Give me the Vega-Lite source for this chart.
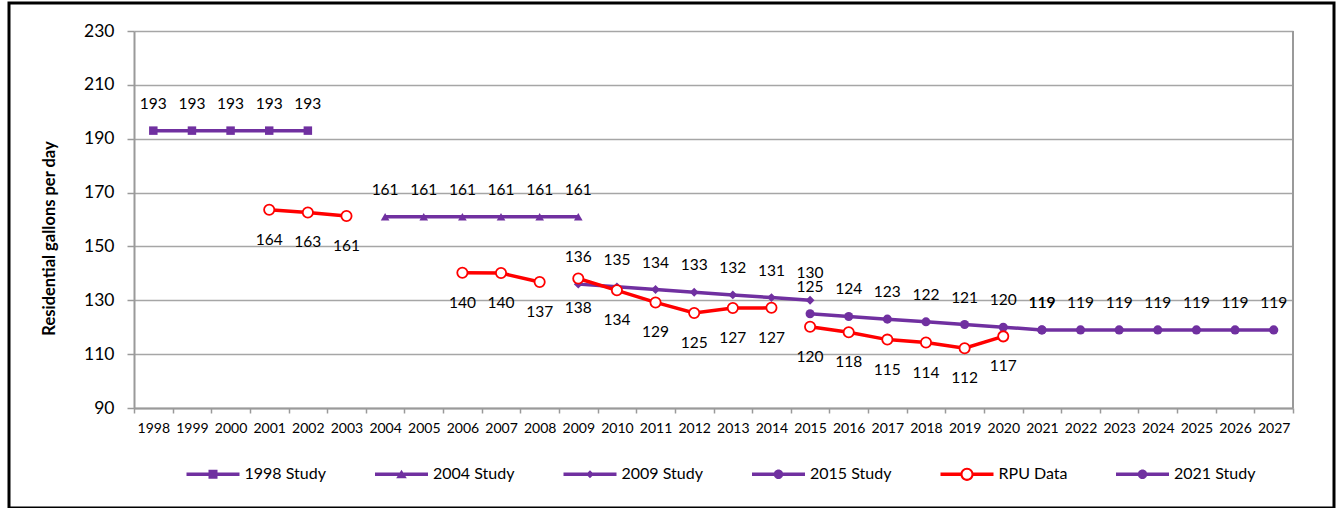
{
  "$schema": "https://vega.github.io/schema/vega-lite/v6.json",
  "width": 1325,
  "height": 505,
  "autosize": {"type": "none"},
  "padding": {"left": 9, "top": 3, "right": 3, "bottom": 0},
  "background": "white",
  "config": {
    "view": {"stroke": "black", "strokeWidth": 3},
    "font": "Lato",
    "text": {"font": "Lato"},
    "legend": {"labelFont": "Lato"}
  },
  "data": {
    "values": [
      {"series": "1998 Study", "group": "1998 Study", "year": 1998, "value": 193},
      {"series": "1998 Study", "group": "1998 Study", "year": 1999, "value": 193},
      {"series": "1998 Study", "group": "1998 Study", "year": 2000, "value": 193},
      {"series": "1998 Study", "group": "1998 Study", "year": 2001, "value": 193},
      {"series": "1998 Study", "group": "1998 Study", "year": 2002, "value": 193},
      {"series": "2004 Study", "group": "2004 Study", "year": 2004, "value": 161},
      {"series": "2004 Study", "group": "2004 Study", "year": 2005, "value": 161},
      {"series": "2004 Study", "group": "2004 Study", "year": 2006, "value": 161},
      {"series": "2004 Study", "group": "2004 Study", "year": 2007, "value": 161},
      {"series": "2004 Study", "group": "2004 Study", "year": 2008, "value": 161},
      {"series": "2004 Study", "group": "2004 Study", "year": 2009, "value": 161},
      {"series": "2009 Study", "group": "2009 Study", "year": 2009, "value": 136},
      {"series": "2009 Study", "group": "2009 Study", "year": 2010, "value": 135},
      {"series": "2009 Study", "group": "2009 Study", "year": 2011, "value": 134},
      {"series": "2009 Study", "group": "2009 Study", "year": 2012, "value": 133},
      {"series": "2009 Study", "group": "2009 Study", "year": 2013, "value": 132},
      {"series": "2009 Study", "group": "2009 Study", "year": 2014, "value": 131},
      {"series": "2009 Study", "group": "2009 Study", "year": 2015, "value": 130},
      {"series": "2015 Study", "group": "2015 Study", "year": 2015, "value": 125},
      {"series": "2015 Study", "group": "2015 Study", "year": 2016, "value": 124},
      {"series": "2015 Study", "group": "2015 Study", "year": 2017, "value": 123},
      {"series": "2015 Study", "group": "2015 Study", "year": 2018, "value": 122},
      {"series": "2015 Study", "group": "2015 Study", "year": 2019, "value": 121},
      {"series": "2015 Study", "group": "2015 Study", "year": 2020, "value": 120},
      {"series": "2015 Study", "group": "2015 Study", "year": 2021, "value": 119},
      {"series": "2021 Study", "group": "2021 Study", "year": 2021, "value": 119},
      {"series": "2021 Study", "group": "2021 Study", "year": 2022, "value": 119},
      {"series": "2021 Study", "group": "2021 Study", "year": 2023, "value": 119},
      {"series": "2021 Study", "group": "2021 Study", "year": 2024, "value": 119},
      {"series": "2021 Study", "group": "2021 Study", "year": 2025, "value": 119},
      {"series": "2021 Study", "group": "2021 Study", "year": 2026, "value": 119},
      {"series": "2021 Study", "group": "2021 Study", "year": 2027, "value": 119},
      {"series": "RPU Data", "group": "RPU 2001-2003", "year": 2001, "value": 163.6},
      {"series": "RPU Data", "group": "RPU 2001-2003", "year": 2002, "value": 162.6},
      {"series": "RPU Data", "group": "RPU 2001-2003", "year": 2003, "value": 161.3},
      {"series": "RPU Data", "group": "RPU 2006-2008", "year": 2006, "value": 140.2},
      {"series": "RPU Data", "group": "RPU 2006-2008", "year": 2007, "value": 140.1},
      {"series": "RPU Data", "group": "RPU 2006-2008", "year": 2008, "value": 136.8},
      {"series": "RPU Data", "group": "RPU 2009-2014", "year": 2009, "value": 138.1},
      {"series": "RPU Data", "group": "RPU 2009-2014", "year": 2010, "value": 133.7},
      {"series": "RPU Data", "group": "RPU 2009-2014", "year": 2011, "value": 129.2},
      {"series": "RPU Data", "group": "RPU 2009-2014", "year": 2012, "value": 125.3},
      {"series": "RPU Data", "group": "RPU 2009-2014", "year": 2013, "value": 127.1},
      {"series": "RPU Data", "group": "RPU 2009-2014", "year": 2014, "value": 127.2},
      {"series": "RPU Data", "group": "RPU 2015-2020", "year": 2015, "value": 120.2},
      {"series": "RPU Data", "group": "RPU 2015-2020", "year": 2016, "value": 118.1},
      {"series": "RPU Data", "group": "RPU 2015-2020", "year": 2017, "value": 115.4},
      {"series": "RPU Data", "group": "RPU 2015-2020", "year": 2018, "value": 114.3},
      {"series": "RPU Data", "group": "RPU 2015-2020", "year": 2019, "value": 112.2},
      {"series": "RPU Data", "group": "RPU 2015-2020", "year": 2020, "value": 116.6}
    ]
  },
  "resolve": {"scale": {"shape": "independent", "color": "independent", "size": "independent"}},
  "layer": [
    {
      "transform": [{"filter": "datum.series !== 'RPU Data'"}],
      "mark": {"type": "line", "color": "#7030A0", "strokeWidth": 3.5},
      "encoding": {
        "x": {
          "field": "year",
          "type": "ordinal",
          "scale": {
            "type": "band",
            "domain": [1998, 1999, 2000, 2001, 2002, 2003, 2004, 2005, 2006, 2007, 2008, 2009, 2010, 2011, 2012, 2013, 2014, 2015, 2016, 2017, 2018, 2019, 2020, 2021, 2022, 2023, 2024, 2025, 2026, 2027],
            "range": [125, 1284],
            "paddingInner": 0,
            "paddingOuter": 0
          },
          "axis": {
            "title": null,
            "orient": "bottom",
            "offset": -100,
            "labelAngle": 0,
            "labelFont": "Lato",
            "labelFontSize": 14,
            "labelColor": "#000000",
            "labelPadding": 8,
            "tickBand": "extent",
            "tickSize": 5,
            "tickColor": "#9A9A9A",
            "tickWidth": 1.5,
            "domainColor": "#9A9A9A",
            "domainWidth": 2,
            "grid": false
          }
        },
        "y": {
          "field": "value",
          "type": "quantitative",
          "scale": {"domain": [90, 230], "range": [405, 28], "nice": false, "zero": false},
          "axis": {
            "title": "Residential gallons per day",
            "titleFont": "Lato",
            "titleFontSize": 16.5,
            "titleFontWeight": "bold",
            "titleColor": "#000000",
            "titleAngle": -90,
            "titleBaseline": "middle",
            "titleAlign": "center",
            "titleX": -85,
            "titleY": 235,
            "orient": "left",
            "offset": -125,
            "values": [90, 110, 130, 150, 170, 190, 210, 230],
            "labelFont": "Lato",
            "labelFontSize": 17.5,
            "labelColor": "#000000",
            "labelPadding": 13,
            "tickSize": 7,
            "tickColor": "#9A9A9A",
            "tickWidth": 1.5,
            "domainColor": "#9A9A9A",
            "domainWidth": 2,
            "grid": true,
            "gridColor": "#A6A6A6",
            "gridWidth": 1.3
          }
        },
        "detail": {"field": "group"}
      }
    },
    {
      "data": {"values": [{}]},
      "mark": {"type": "rule", "color": "#9A9A9A", "strokeWidth": 2},
      "encoding": {
        "x": {"datum": 2027, "type": "ordinal", "bandPosition": 1},
        "y": {"datum": 90, "type": "quantitative"},
        "y2": {"datum": 230}
      }
    },
    {
      "transform": [{"filter": "datum.series !== 'RPU Data'"}],
      "mark": {"type": "point", "filled": true, "color": "#7030A0", "opacity": 1},
      "encoding": {
        "x": {"field": "year", "type": "ordinal"},
        "y": {"field": "value", "type": "quantitative"},
        "shape": {
          "field": "series",
          "type": "nominal",
          "scale": {
            "domain": ["1998 Study", "2004 Study", "2009 Study", "2015 Study", "2021 Study"],
            "range": ["square", "triangle-up", "diamond", "circle", "circle"]
          },
          "legend": null
        },
        "size": {
          "field": "series",
          "type": "ordinal",
          "scale": {
            "domain": ["1998 Study", "2004 Study", "2009 Study", "2015 Study", "2021 Study"],
            "range": [72, 85, 50, 95, 95]
          },
          "legend": null
        }
      }
    },
    {
      "transform": [{"filter": "datum.series === 'RPU Data'"}],
      "mark": {"type": "line", "color": "#FF0000", "strokeWidth": 3.5},
      "encoding": {
        "x": {"field": "year", "type": "ordinal"},
        "y": {"field": "value", "type": "quantitative"},
        "detail": {"field": "group"}
      }
    },
    {
      "transform": [{"filter": "datum.series === 'RPU Data'"}],
      "mark": {"type": "point", "shape": "circle", "filled": true, "fill": "#FFFFFF", "stroke": "#FF0000", "strokeWidth": 1.8, "size": 105, "opacity": 1},
      "encoding": {
        "x": {"field": "year", "type": "ordinal"},
        "y": {"field": "value", "type": "quantitative"}
      }
    },
    {
      "transform": [{"filter": "datum.series !== 'RPU Data'"}],
      "mark": {"type": "text", "font": "Lato", "fontSize": 15.5, "color": "#000000", "baseline": "middle", "dy": -27},
      "encoding": {
        "x": {"field": "year", "type": "ordinal"},
        "y": {"field": "value", "type": "quantitative"},
        "text": {"field": "value", "type": "quantitative", "format": ".0f"}
      }
    },
    {
      "transform": [{"filter": "datum.series === 'RPU Data'"}],
      "mark": {"type": "text", "font": "Lato", "fontSize": 15.5, "color": "#000000", "baseline": "middle", "dy": 30},
      "encoding": {
        "x": {"field": "year", "type": "ordinal"},
        "y": {"field": "value", "type": "quantitative"},
        "text": {"field": "value", "type": "quantitative", "format": ".0f"}
      }
    },
    {
      "transform": [{"filter": "false"}],
      "mark": {"type": "point", "filled": true, "opacity": 1},
      "encoding": {
        "color": {
          "field": "series",
          "type": "nominal",
          "scale": {
            "domain": ["1998 Study", "2004 Study", "2009 Study", "2015 Study", "RPU Data", "2021 Study"],
            "range": ["#7030A0", "#7030A0", "#7030A0", "#7030A0", "#FF0000", "#7030A0"]
          },
          "legend": {
            "title": null,
            "orient": "none",
            "legendX": 177.5,
            "legendY": 444.5,
            "direction": "horizontal",
            "padding": 0,
            "symbolSize": 2809,
            "symbolStrokeWidth": 0,
            "symbolOpacity": 1,
            "labelFont": "Lato",
            "labelFontSize": 16,
            "labelColor": "#000000",
            "labelOffset": 5,
            "columnPadding": 48.5,
            "labelLimit": 300
          }
        },
        "shape": {
          "field": "series",
          "type": "nominal",
          "scale": {
            "domain": ["1998 Study", "2004 Study", "2009 Study", "2015 Study", "RPU Data", "2021 Study"],
            "range": [
              "M-1,-0.066H1V0.066H-1Z M-0.17,-0.17H0.17V0.17H-0.17Z",
              "M-1,-0.066H1V0.066H-1Z M0,-0.17L0.2,0.15L-0.2,0.15Z",
              "M-1,-0.066H1V0.066H-1Z M0,-0.15L0.15,0L0,0.15L-0.15,0Z",
              "M-1,-0.066H1V0.066H-1Z M-0.18,0A0.18,0.18 0 1 1 0.18,0A0.18,0.18 0 1 1 -0.18,0Z",
              "M-1,-0.066H-0.22V0.066H-1Z M0.22,-0.066H1V0.066H0.22Z M-0.25,0A0.25,0.25 0 1 1 0.25,0A0.25,0.25 0 1 1 -0.25,0Z M-0.17,0A0.17,0.17 0 1 0 0.17,0A0.17,0.17 0 1 0 -0.17,0Z",
              "M-1,-0.066H1V0.066H-1Z M-0.18,0A0.18,0.18 0 1 1 0.18,0A0.18,0.18 0 1 1 -0.18,0Z"
            ]
          },
          "legend": {
            "title": null,
            "orient": "none",
            "legendX": 177.5,
            "legendY": 444.5,
            "direction": "horizontal",
            "padding": 0,
            "symbolSize": 2809,
            "symbolStrokeWidth": 0,
            "symbolOpacity": 1,
            "labelFont": "Lato",
            "labelFontSize": 16,
            "labelColor": "#000000",
            "labelOffset": 5,
            "columnPadding": 48.5,
            "labelLimit": 300
          }
        }
      }
    }
  ]
}
